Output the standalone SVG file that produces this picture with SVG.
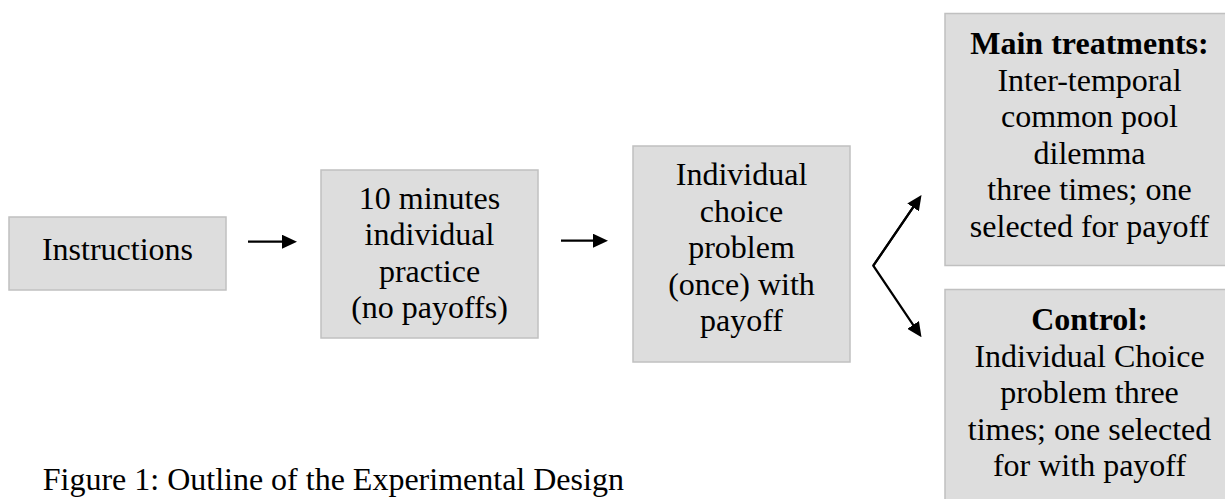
<svg xmlns="http://www.w3.org/2000/svg" width="1225" height="499" viewBox="0 0 1225 499">
<style>
.box{fill:#dddddd;stroke:#c0c0c0;stroke-width:1.5}
.lbl{font-family:"Liberation Serif","Times New Roman",serif;font-size:32px;fill:#000;text-anchor:middle}
.bold{font-weight:bold}
.cap{font-family:"Liberation Serif","Times New Roman",serif;font-size:32px;fill:#000}
.c{fill:none;stroke:#000;stroke-width:2.2}
</style>
<defs>
<marker id="ah" viewBox="0 0 15 14" refX="10" refY="7" markerWidth="15" markerHeight="14" markerUnits="userSpaceOnUse" orient="auto">
<path d="M0,0 L15,7 L0,14 z" fill="#000"/>
</marker>
</defs>
<rect width="1225" height="499" fill="#fff"/>
<g id="n-instructions">
<rect class="box" x="9" y="217" width="217" height="73"/>
<text class="lbl" x="117.5" y="259.5">Instructions</text>
</g>
<g id="n-practice">
<rect class="box" x="321" y="170" width="217" height="168"/>
<text class="lbl" x="429.5" y="208.5">10 minutes</text>
<text class="lbl" x="429.5" y="245">individual</text>
<text class="lbl" x="429.5" y="281.5">practice</text>
<text class="lbl" x="429.5" y="318">(no payoffs)</text>
</g>
<g id="n-choice">
<rect class="box" x="633" y="146" width="217" height="216"/>
<text class="lbl" x="741.5" y="185">Individual</text>
<text class="lbl" x="741.5" y="221.6">choice</text>
<text class="lbl" x="741.5" y="258.2">problem</text>
<text class="lbl" x="741.5" y="294.8">(once) with</text>
<text class="lbl" x="741.5" y="331.4">payoff</text>
</g>
<g id="n-main">
<rect class="box" x="945" y="13.5" width="300" height="252"/>
<text class="lbl bold" x="1089.5" y="54">Main treatments:</text>
<text class="lbl" x="1089.5" y="90.6">Inter-temporal</text>
<text class="lbl" x="1089.5" y="127.2">common pool</text>
<text class="lbl" x="1089.5" y="163.8">dilemma</text>
<text class="lbl" x="1089.5" y="200.4">three times; one</text>
<text class="lbl" x="1089.5" y="237">selected for payoff</text>
</g>
<g id="n-control">
<rect class="box" x="945" y="289.5" width="300" height="230"/>
<text class="lbl bold" x="1089.5" y="330">Control:</text>
<text class="lbl" x="1089.5" y="366.6">Individual Choice</text>
<text class="lbl" x="1089.5" y="403.2">problem three</text>
<text class="lbl" x="1089.5" y="439.8">times; one selected</text>
<text class="lbl" x="1089.5" y="476.4">for with payoff</text>
</g>
<g id="connectors">
<path class="c" d="M248,241.7 L292,241.7" marker-end="url(#ah)"/>
<path class="c" d="M561,240.7 L603,240.7" marker-end="url(#ah)"/>
<path class="c" d="M918.7,199.1 L873.3,265.7 L918.7,333.2" marker-end="url(#ah)"/>
<path class="c" d="M873.3,265.7 L918.7,199.1" marker-end="url(#ah)"/>
</g>
<text class="cap" x="42.7" y="490">Figure 1: Outline of the Experimental Design</text>
</svg>
